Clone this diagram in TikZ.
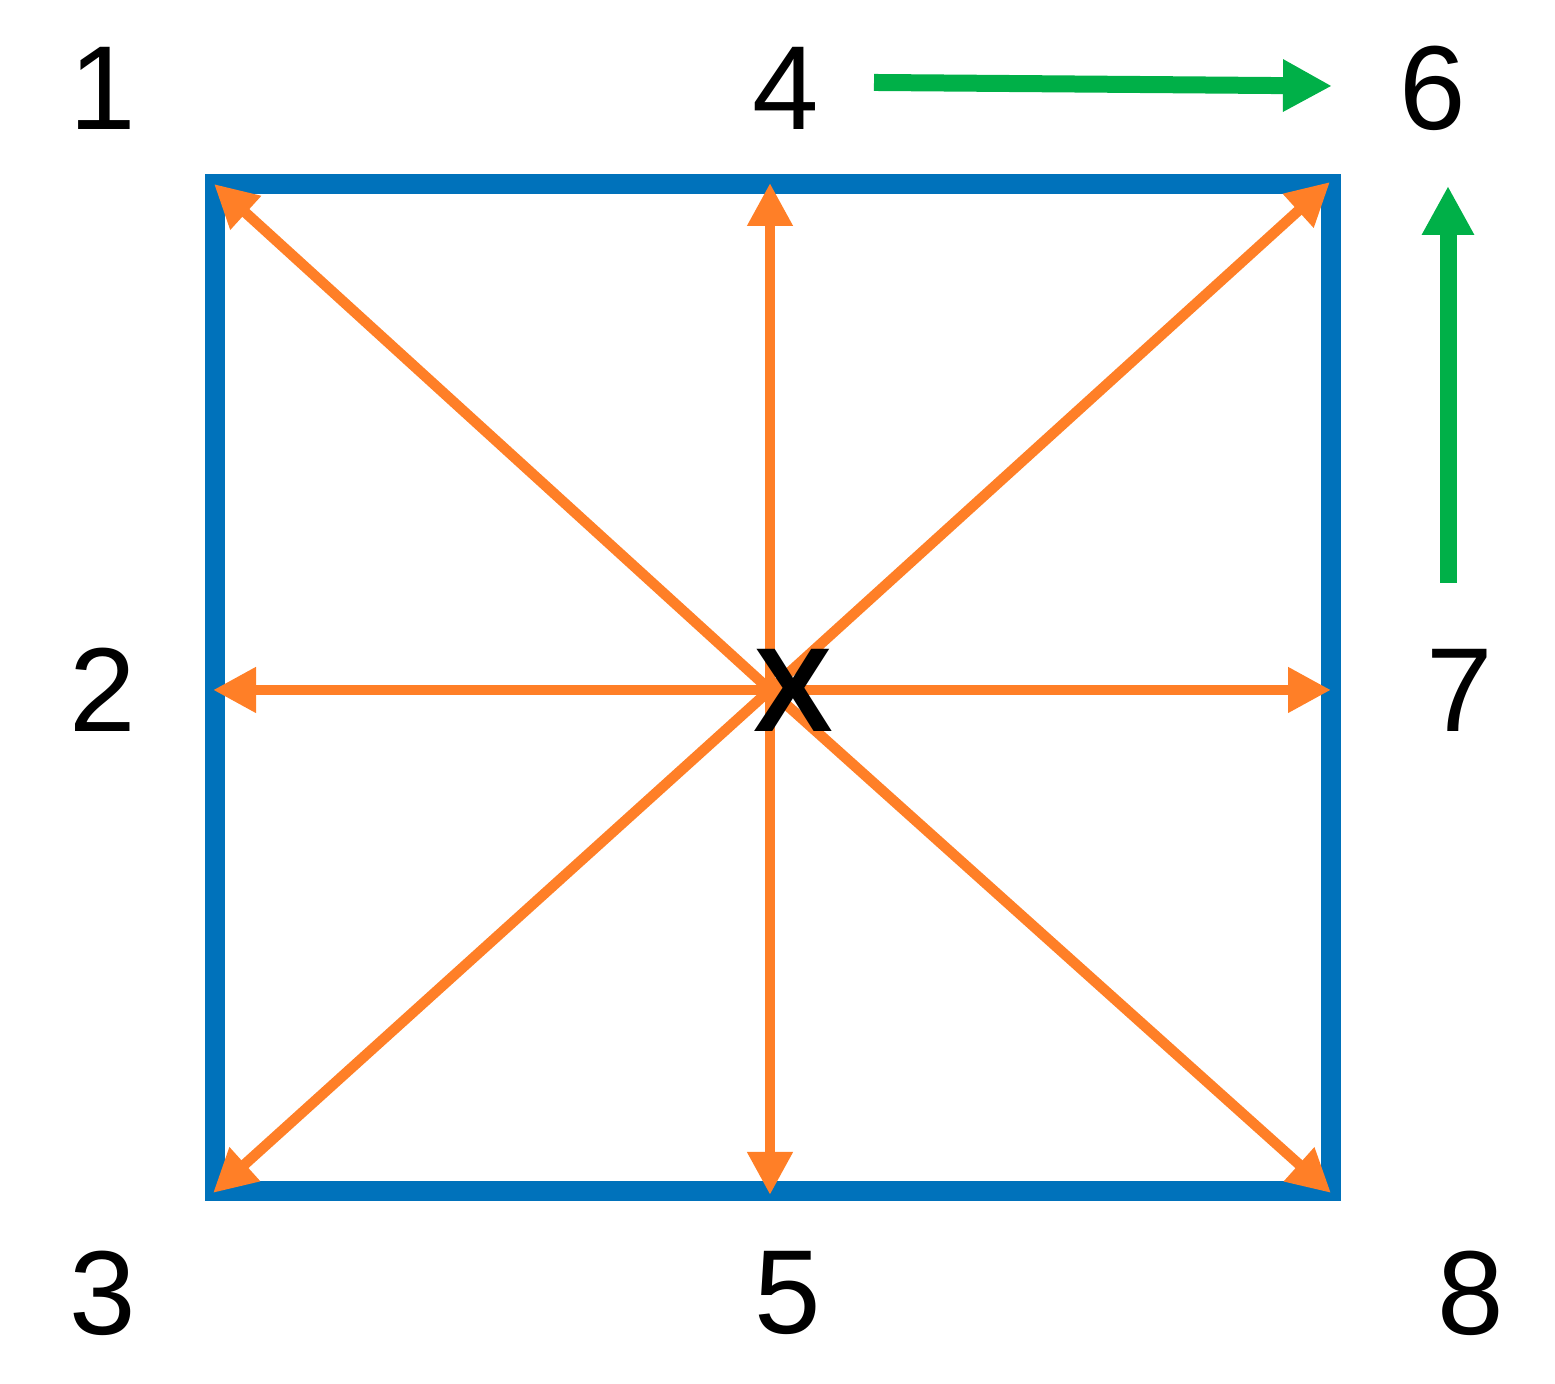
\documentclass[tikz,border=0pt]{standalone}
\usepackage{fontspec}
\setmainfont{Liberation Sans}
\usepackage{tikz}
\usetikzlibrary{arrows.meta}
\definecolor{frameblue}{RGB}{0,114,187}
\definecolor{spokeorange}{RGB}{255,127,39}
\definecolor{movegreen}{RGB}{0,176,72}
\tikzset{
  lbl/.style={inner sep=0pt,font=\fontsize{34}{40}\selectfont},
  spoke/.style={spokeorange,line width=0.105cm,-{Triangle[length=0.43cm,width=0.43cm]}},
  movearrow/.style={movegreen,line width=0.17cm,-{Triangle[length=0.49cm,width=0.49cm]}}
}
\begin{document}
\begin{tikzpicture}
\useasboundingbox (0,0) rectangle (15.55,13.84);
%%%% frame
\draw[frameblue,line width=0.2cm] (2.15,1.93) rectangle (13.31,12.00);
%
\coordinate (c) at (7.70,6.94);
\coordinate (t) at (7.70,12.01);
\coordinate (b) at (7.70,1.89);
\coordinate (l) at (2.13,6.94);
\coordinate (r) at (13.31,6.94);
\coordinate (tl) at (2.14,12.00);
\coordinate (tr) at (13.30,12.02);
\coordinate (bl) at (2.13,1.91);
\coordinate (br) at (13.31,1.91);
%spokes
\foreach \e in {t,b,l,r,tl,tr,bl,br}
  \draw[spoke] (c)--(\e);
\node[lbl,font=\fontsize{34}{40}\selectfont\bfseries] (x) at (7.93,6.94) {X};
%%%labels
\node[lbl] (n1) at (1.03,12.96) {1};
\node[lbl] (n4) at (7.86,12.96) {4};
\node[lbl] (n6) at (14.33,12.96) {6};
\node[lbl] (n2) at (1.03,6.94) {2};
\node[lbl] (n7) at (14.60,6.94) {7};
\node[lbl] (n3) at (1.03,0.91) {3};
\node[lbl] (n5) at (7.88,0.91) {5};
\node[lbl] (n8) at (14.71,0.91) {8};
%green moves
\coordinate (h0) at (8.74,13.015);
\coordinate (h1) at (13.32,12.98);
\coordinate (v0) at (14.48,8.01);
\coordinate (v1) at (14.48,11.98);
\draw[movearrow] (h0)--(h1);
\draw[movearrow] (v0)--(v1);
\end{tikzpicture}
\end{document}
